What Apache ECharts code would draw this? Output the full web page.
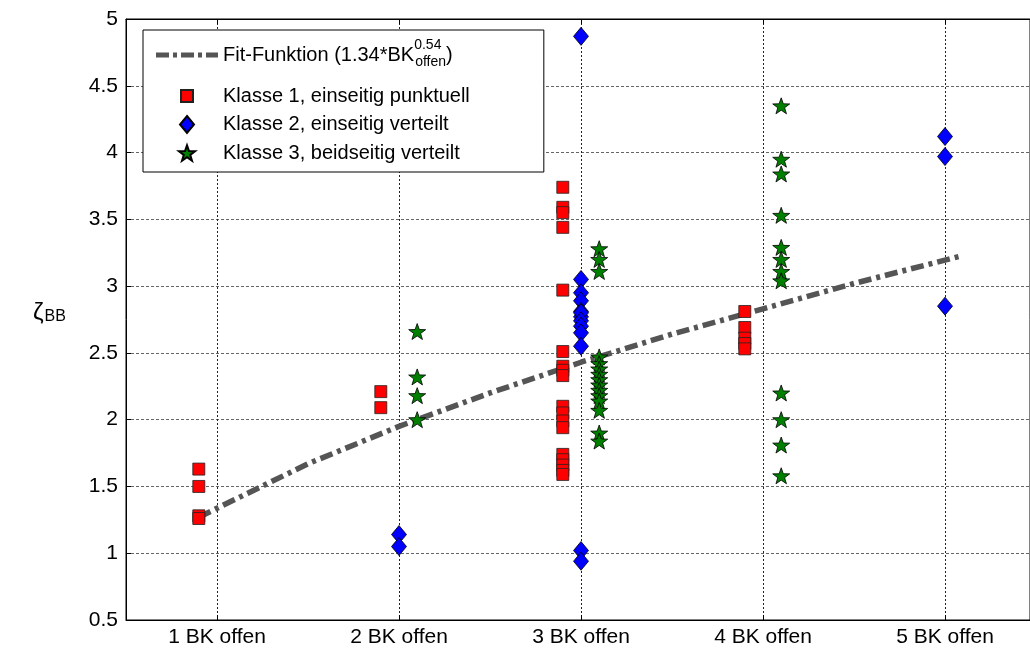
<!DOCTYPE html>
<html>
<head>
<meta charset="utf-8">
<script src="https://cdn.jsdelivr.net/npm/echarts@6/dist/echarts.min.js"></script>
<style>
html,body{margin:0;padding:0;background:#fff;}
#c{width:1030px;height:648px;}
</style>
</head>
<body>
<div id="c"></div>
<script>
// ---- data ----
const xTickValues = [1, 2, 3, 4, 5];
const xTickLabels = ['1 BK offen', '2 BK offen', '3 BK offen', '4 BK offen', '5 BK offen'];

// Fit curve
const fitX = [0.9, 1.5, 2.0, 2.5, 3.0, 3.5, 4.0, 4.5, 5.1];
const fitY = [1.27, 1.67, 1.95, 2.20, 2.43, 2.64, 2.83, 3.02, 3.23];

// Klasse 1 (red squares)
const k1X = [0.9, 1.9, 2.9, 3.9];
const k1Y = [
  [1.63, 1.50, 1.28, 1.26],
  [2.21, 2.09],
  [3.74, 3.59, 3.55, 3.44, 2.97, 2.51, 2.40, 2.37, 2.33, 2.10, 2.05, 1.99, 1.94, 1.74, 1.70, 1.66, 1.62, 1.59],
  [2.81, 2.69, 2.61, 2.57, 2.53]
];
// Klasse 2 (blue diamonds)
const k2X = [2, 3, 5];
const k2Y = [
  [1.14, 1.05],
  [4.87, 3.05, 2.95, 2.89, 2.81, 2.77, 2.80, 2.74, 2.70, 2.65, 2.55, 1.02, 0.94],
  [4.12, 3.97, 2.85]
];
// Klasse 3 (green stars)
const k3X = [2.1, 3.1, 4.1];
const k3Y = [
  [2.66, 2.32, 2.18, 2.00],
  [3.28, 3.20, 3.11, 2.47, 2.42, 2.38, 2.34, 2.30, 2.26, 2.22, 2.18, 2.14, 2.07, 1.90, 1.84],
  [4.35, 3.95, 3.84, 3.53, 3.29, 3.20, 3.11, 3.04, 2.20, 2.00, 1.81, 1.58]
];

const seriesNames = ['Fit-Funktion', 'Klasse 1, einseitig punktuell', 'Klasse 2, einseitig verteilt', 'Klasse 3, beidseitig verteilt'];

function pairs(xs, ys) {
  const out = [];
  xs.forEach((x, i) => ys[i].forEach(v => out.push([x, v])));
  return out;
}
const fitData = fitX.map((x, i) => [x, fitY[i]]);

const starPath = 'path://M0,-10L2.35,-3.24L9.51,-3.09L3.8,1.24L5.88,8.09L0,4L-5.88,8.09L-3.8,1.24L-9.51,-3.09L-2.35,-3.24Z';
// legend icons drawn inside a fixed 62 x 18 box (corner zero-length segments fix the box)
const BOX = 'M0,0L0,0M62,18L62,18';
const iconDash = 'path://' + BOX + 'M0,6.5h13v5h-13zM17,6.5h4v5h-4zM25,6.5h13v5h-13zM42,6.5h4v5h-4zM50,6.5h12v5h-12z';
const iconSquare = 'path://' + BOX + 'M25,3h12v12h-12z';
const iconDiamond = 'path://' + BOX + 'M31,0.5L38,9L31,17.5L24,9z';
const iconStar = 'path://' + BOX + 'M31,1.31L33,7.06L39.08,7.19L34.23,10.87L36,16.69L31,13.21L26,16.69L27.77,10.87L22.92,7.19L29,7.06z';
const FONT = 'Liberation Sans, Arial, sans-serif';

const chart = echarts.init(document.getElementById('c'), null, {renderer: 'canvas'});
chart.setOption({
  animation: false,
  backgroundColor: '#fff',
  textStyle: {fontFamily: FONT},
  grid: {left: 126, top: 19, right: 0, height: 602, show: true, borderColor: '#000', borderWidth: 1, containLabel: false},
  xAxis: [{
    type: 'value', min: 0.5, max: 5.467,
    axisLine: {show: true, onZero: false, lineStyle: {color: '#000', width: 1}},
    axisTick: {show: true, inside: true, length: 5, customValues: xTickValues, lineStyle: {color: '#000'}},
    axisLabel: {show: true, customValues: xTickValues, margin: 7, fontSize: 21, color: '#000', fontFamily: FONT,
      formatter: v => xTickLabels[xTickValues.indexOf(v)] || ''},
    splitLine: {show: true, lineStyle: {color: '#222', type: [2, 2], width: 1}}
  }, {
    type: 'value', min: 0.5, max: 5.467, position: 'top',
    axisLine: {show: true, onZero: false, lineStyle: {color: '#000'}},
    axisTick: {show: true, inside: true, length: 5, customValues: xTickValues, lineStyle: {color: '#000'}},
    axisLabel: {show: false},
    splitLine: {show: false}
  }],
  yAxis: {
    type: 'value', min: 0.5, max: 5, interval: 0.5,
    axisLine: {show: true, onZero: false, lineStyle: {color: '#000'}},
    axisTick: {show: true, inside: true, length: 5, lineStyle: {color: '#000'}},
    axisLabel: {fontSize: 21, color: '#000', margin: 8, fontFamily: FONT},
    splitLine: {show: true, lineStyle: {color: '#666', type: [3, 2], width: 1}}
  },
  legend: {
    orient: 'vertical', left: 143, top: 30,
    padding: [1.5, 74, 8, 12],
    itemGap: 6.5, itemWidth: 62, itemHeight: 18,
    borderColor: '#000', borderWidth: 1, backgroundColor: '#fff',
    data: [
      {name: seriesNames[0], icon: iconDash, itemStyle: {color: '#555', borderWidth: 0}},
      {name: seriesNames[1], icon: iconSquare},
      {name: seriesNames[2], icon: iconDiamond},
      {name: seriesNames[3], icon: iconStar}
    ],
    formatter: function (name) {
      if (name === 'Fit-Funktion') return '{m|Fit-Funktion (1.34*BK}{sup|0.54}{sub|offen}{m|)}';
      return name;
    },
    textStyle: {
      fontSize: 20, color: '#000', fontFamily: FONT, lineHeight: 22,
      rich: {
        m: {fontSize: 20, lineHeight: 47, fontFamily: FONT, color: '#000'},
        sup: {fontSize: 14, lineHeight: 14, verticalAlign: 'top', padding: [6.5, 0, 0, 0], width: 1, fontFamily: FONT, color: '#000'},
        sub: {fontSize: 14, lineHeight: 14, verticalAlign: 'bottom', padding: [0, 0, 9.5, 0], fontFamily: FONT, color: '#000'}
      }
    }
  },
  graphic: [{
    type: 'text', left: 33, top: 293,
    style: {
      text: '{z|ζ}{s|BB}',
      rich: {
        z: {fontSize: 24, fontFamily: FONT, fill: '#000', verticalAlign: 'top', lineHeight: 24},
        s: {fontSize: 16, fontFamily: FONT, fill: '#000', verticalAlign: 'bottom', lineHeight: 16, padding: [16, 0, 0, 1]}
      }
    }
  }],
  series: [{
    name: seriesNames[0], type: 'line', data: fitData, symbol: 'none', z: 1,
    lineStyle: {color: '#555', width: 5.5, type: [13, 5, 4, 5]},
    itemStyle: {color: '#555'}
  }, {
    name: seriesNames[1], type: 'scatter', data: pairs(k1X, k1Y), z: 3,
    symbol: 'rect', symbolSize: 12,
    itemStyle: {color: '#ff0000', borderColor: '#222', borderWidth: 0.8, opacity: 1}
  }, {
    name: seriesNames[2], type: 'scatter', data: pairs(k2X, k2Y), z: 3,
    symbol: 'diamond', symbolSize: [15, 18],
    itemStyle: {color: '#0000ff', borderColor: '#000', borderWidth: 0.8, opacity: 1}
  }, {
    name: seriesNames[3], type: 'scatter', data: pairs(k3X, k3Y), z: 3,
    symbol: starPath, symbolSize: [17, 16],
    itemStyle: {color: '#007f00', borderColor: '#000', borderWidth: 0.8, opacity: 1}
  }]
});
</script>
</body>
</html>
